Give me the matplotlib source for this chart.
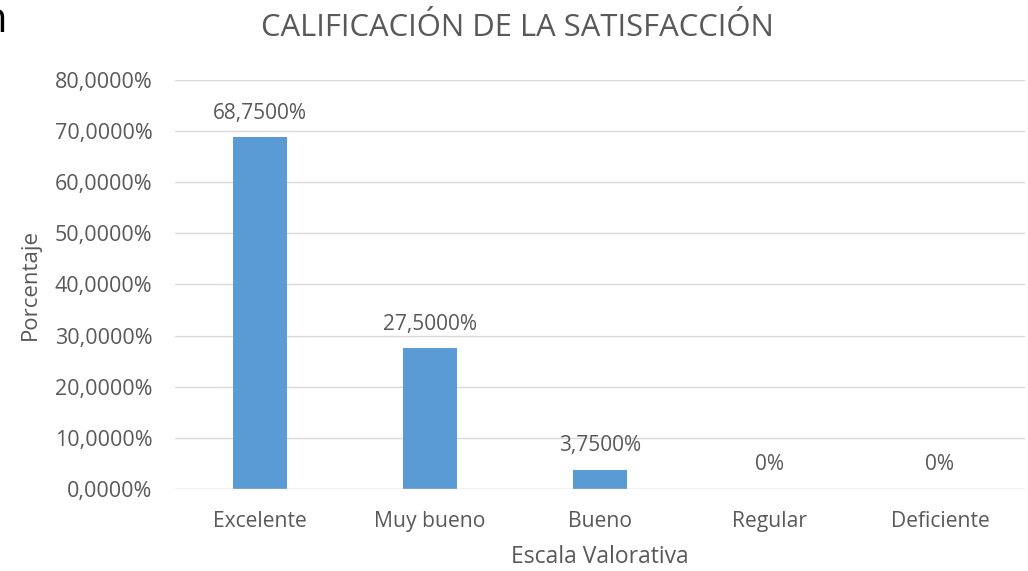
import matplotlib.pyplot as plt

categories = ["Excelente", "Muy bueno", "Bueno", "Regular", "Deficiente"]
values = [68.75, 27.5, 3.75, 0, 0]
labels = ["68,7500%", "27,5000%", "3,7500%", "0%", "0%"]
yticks = [0, 10, 20, 30, 40, 50, 60, 70, 80]

plt.rcParams["font.family"] = ["Open Sans", "DejaVu Sans"]
gray = "#595959"

fig = plt.figure(figsize=(10.28, 5.71), dpi=100)
ax = fig.add_axes([0.170, 0.1436, 0.827, 0.7164])

x = range(len(categories))
ax.bar(x, values, width=0.32, color="#5B9BD5", zorder=3)
for i, (v, lab) in enumerate(zip(values, labels)):
    ax.text(i, v + 4.7, lab, ha="center", va="center", fontsize=15, color=gray)

ax.set_xlim(-0.5, len(categories) - 0.5)
ax.set_ylim(0, 80)
ax.set_yticks(yticks)
ax.set_yticklabels([f"{t},0000%" for t in yticks], fontsize=15.5, color=gray)
ax.set_xticks(list(x))
ax.set_xticklabels(categories, fontsize=15.2, color=gray)
ax.tick_params(axis="y", length=0, pad=16)
ax.tick_params(axis="x", length=0, pad=16)
ax.grid(axis="y", color="#D9D9D9", linewidth=1, zorder=0)
for s in ax.spines.values():
    s.set_visible(False)
ax.axhline(0, color="#D9D9D9", linewidth=1, zorder=4)

ax.set_xlabel("Escala Valorativa", fontsize=16.5, color=gray, labelpad=9)
ax.set_ylabel("Porcentaje", fontsize=16, color=gray, labelpad=10)
fig.text(0.503, 0.951, "CALIFICACIÓN DE LA SATISFACCIÓN", ha="center", va="center",
         fontsize=22.3, color=gray)
# partial letter cut at the left edge, as in the original
fig.text(7 / 1028, 0.944, "n", ha="right", va="baseline", fontsize=30, color="black")

fig.savefig("out.png", dpi=100)
